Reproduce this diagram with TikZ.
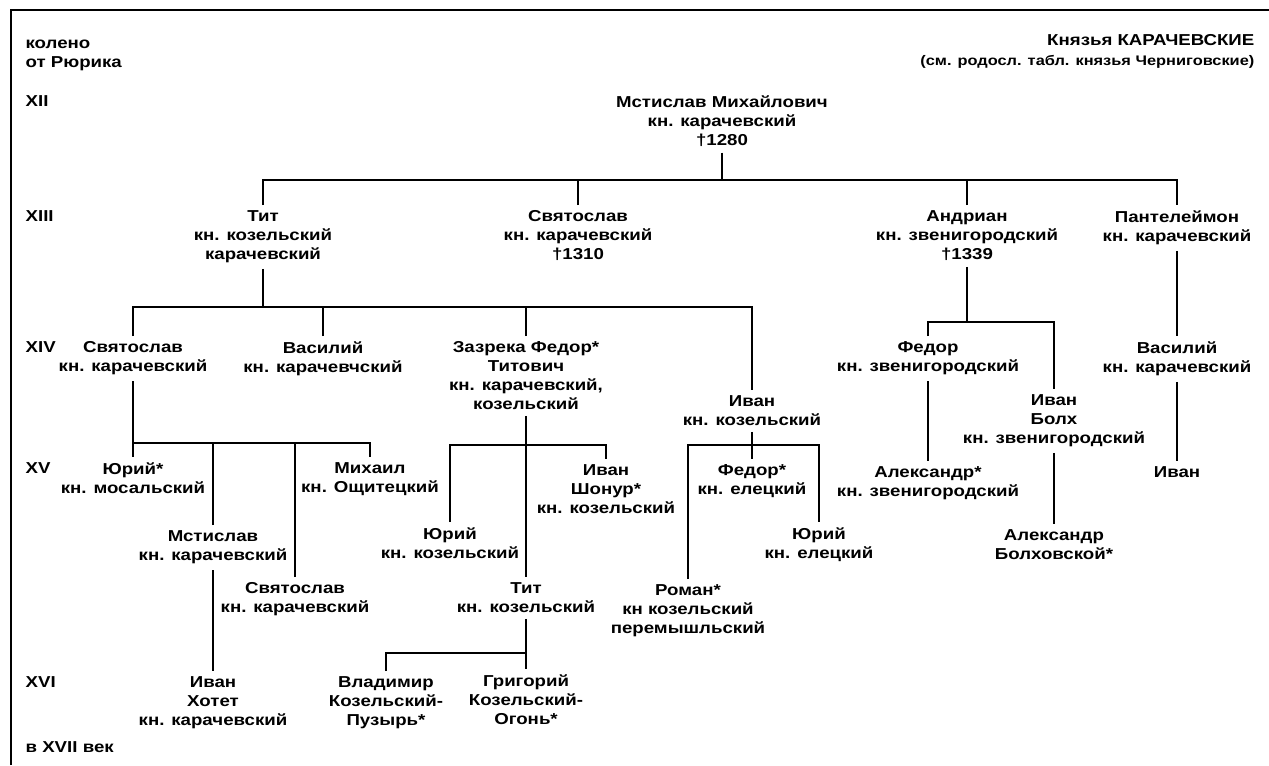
\documentclass[tikz,border=0pt]{standalone}
\usepackage{fontspec}
\setmainfont{Liberation Sans}[FakeStretch=1.18]
\begin{document}
\begin{tikzpicture}[x=0.02cm,y=-0.02cm,
    font=\fontsize{9}{10.8}\selectfont\bfseries,line width=0.75pt,
    person/.style={align=center,anchor=north,inner sep=3pt},
    gen/.style={anchor=west,inner sep=0pt}]
  \useasboundingbox (0,0) rectangle (1269,765);
  \draw[line width=1.2pt] (11,765) -- (11,10) -- (1269,10);
  \node[anchor=north west,align=left,inner sep=0pt] (koleno) at (25,39)
    {колено\\от Рюрика};
  \node[anchor=north east,inner sep=0pt] (title) at (1255,34)
    {Князья КАРАЧЕВСКИЕ};
  \node[anchor=north east,inner sep=0pt,font=\fontsize{7.9}{9}\selectfont\bfseries]
    (subtitle) at (1255,55) {(см. родосл. табл. князья Черниговские)};
  \foreach \g/\yy in {XII/101,XIII/216,XIV/347,XV/468,XVI/682}{
    \node[gen] (gen\g) at (25,\yy) {\g};
  }
  \node[gen] (genXVII) at (25,747) {в XVII век};

  \node[person] (root) at (722,90) {Мстислав Михайлович\\кн. карачевский\\†1280};

  \node[person] (tit) at (263,205) {Тит\\кн. козельский\\карачевский};
  \node[person] (svy) at (578,205) {Святослав\\кн. карачевский\\†1310};
  \node[person] (andr) at (967,205) {Андриан\\кн. звенигородский\\†1339};
  \node[person] (pant) at (1177,205) {Пантелеймон\\кн. карачевский};

  \node[person] (sv2) at (133,336) {Святослав\\кн. карачевский};
  \node[person] (vas) at (323,336) {Василий\\кн. карачевчский};
  \node[person] (zaz) at (526,336) {Зазрека Федор*\\Титович\\кн. карачевский,\\козельский};
  \node[person] (iv2) at (752,390) {Иван\\кн. козельский};
  \node[person] (fed) at (928,336) {Федор\\кн. звенигородский};
  \node[person] (ivb) at (1054,389) {Иван\\Болх\\кн. звенигородский};
  \node[person] (vas2) at (1177,336) {Василий\\кн. карачевский};

  \node[person] (yur) at (133,457) {Юрий*\\кн. мосальский};
  \node[person] (mst) at (213,525) {Мстислав\\кн. карачевский};
  \node[person] (sv3) at (295,577) {Святослав\\кн. карачевский};
  \node[person] (mih) at (370,457) {Михаил\\кн. Ощитецкий};
  \node[person] (yur2) at (450,522) {Юрий\\кн. козельский};
  \node[person] (shon) at (606,459) {Иван\\Шонур*\\кн. козельский};
  \node[person] (tit2) at (526,577) {Тит\\кн. козельский};
  \node[person] (rom) at (688,579) {Роман*\\кн козельский\\перемышльский};
  \node[person] (fed2) at (752,459) {Федор*\\кн. елецкий};
  \node[person] (yur3) at (819,522) {Юрий\\кн. елецкий};
  \node[person] (alx) at (928,461) {Александр*\\кн. звенигородский};
  \node[person] (alb) at (1054,524) {Александр\\Болховской*};
  \node[person] (iv3) at (1177,461) {Иван};

  \node[person] (ivh) at (213,671) {Иван\\Хотет\\кн. карачевский};
  \node[person] (vla) at (386,671) {Владимир\\Козельский-\\Пузырь*};
  \node[person] (gri) at (526,669) {Григорий\\Козельский-\\Огонь*};

  \coordinate (j1) at (720,180);
  \coordinate (j2) at (263,307);
  \coordinate (j3) at (133,443);
  \coordinate (j4) at (526,445);
  \coordinate (j5) at (752,445);
  \coordinate (j6) at (967,322);
  \coordinate (j7) at (526,653);

  \draw (root.south) -- (root.south |- j1);
  \draw (tit.north) |- (j1) -| (pant.north);
  \draw (svy.north) -- (svy.north |- j1);
  \draw (andr.north) -- (andr.north |- j1);

  \draw (tit.south) -- (j2);
  \draw (sv2.north) |- (j2) -| (iv2.north);
  \draw (vas.north) -- (vas.north |- j2);
  \draw (zaz.north) -- (zaz.north |- j2);

  \draw (sv2.south) -- (yur.north);
  \draw (j3) -| (mih.north);
  \draw (mst.north) -- (mst.north |- j3);
  \draw (sv3.north) -- (sv3.north |- j3);
  \draw (mst.south) -- (ivh.north);

  \draw (zaz.south) -- (tit2.north);
  \draw (yur2.north) |- (j4) -| (shon.north);
  \draw (tit2.south) -- (gri.north);
  \draw (vla.north) |- (j7);

  \draw (iv2.south) -- (fed2.north);
  \draw (rom.north) |- (j5) -| (yur3.north);

  \draw (andr.south) -- (j6);
  \draw (fed.north) |- (j6) -| (ivb.north);
  \draw (fed.south) -- (alx.north);
  \draw (ivb.south) -- (alb.north);

  \draw (pant.south) -- (vas2.north);
  \draw (vas2.south) -- (iv3.north);
\end{tikzpicture}
\end{document}
